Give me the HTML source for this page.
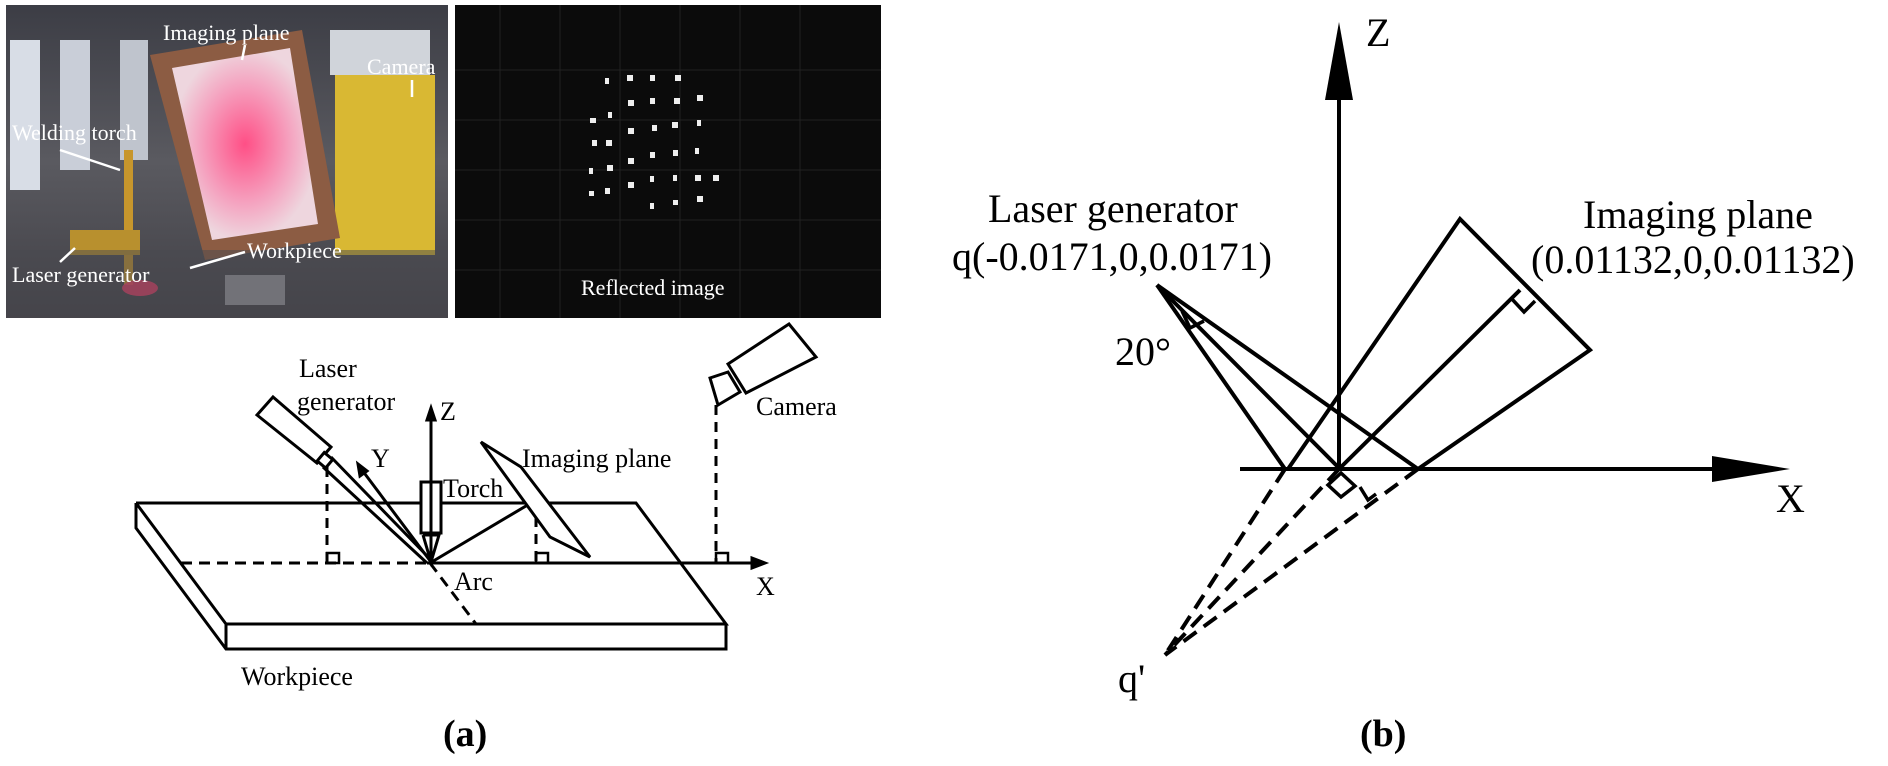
<!DOCTYPE html>
<html><head><meta charset="utf-8"><style>
html,body{margin:0;padding:0;background:#fff;}
svg{display:block;}
</style></head><body>
<svg width="1888" height="766" viewBox="0 0 1888 766" xmlns="http://www.w3.org/2000/svg">
<defs>
<linearGradient id="bg" x1="0" y1="0" x2="0" y2="1"><stop offset="0" stop-color="#3c3d45"/><stop offset="0.5" stop-color="#5a5a60"/><stop offset="1" stop-color="#403f45"/></linearGradient>
<radialGradient id="pink" cx="0.5" cy="0.5" r="0.5"><stop offset="0" stop-color="#ff4f86"/><stop offset="0.6" stop-color="#f5a0be"/><stop offset="1" stop-color="#eed6de"/></radialGradient>
</defs>
<rect x="6" y="5" width="442" height="313" fill="url(#bg)"/>
<rect x="10" y="40" width="30" height="150" fill="#d8dde6"/>
<rect x="60" y="40" width="30" height="130" fill="#c9ced8"/>
<rect x="120" y="40" width="28" height="120" fill="#bfc4cd"/>
<rect x="330" y="30" width="100" height="45" fill="#d0d4da"/>
<rect x="335" y="75" width="100" height="180" fill="#d9b833"/>
<polygon points="150,55 302,30 340,238 205,260" fill="#8c5c43"/>
<polygon points="172,68 290,48 318,224 212,240" fill="url(#pink)"/>
<rect x="124" y="150" width="9" height="135" fill="#c7962c"/>
<rect x="70" y="230" width="70" height="25" fill="#b8902e"/>
<ellipse cx="140" cy="288" rx="18" ry="8" fill="#ff3a6a" opacity="0.85"/>
<rect x="225" y="275" width="60" height="30" fill="#9a9aa0"/>
<rect x="6" y="250" width="442" height="68" fill="#4a4a50" opacity="0.5"/>
<g font-family="Liberation Serif, serif" fill="#fff" font-size="22">
<text x="163" y="40">Imaging plane</text>
<text x="367" y="74">Camera</text>
<text x="12" y="140">Welding torch</text>
<text x="247" y="258">Workpiece</text>
<text x="12" y="282">Laser generator</text>
</g>
<g stroke="#fff" stroke-width="2.5">
<line x1="245" y1="45" x2="242" y2="60"/><line x1="412" y1="80" x2="412" y2="97"/>
<line x1="60" y1="150" x2="120" y2="170"/><line x1="60" y1="262" x2="75" y2="248"/>
<line x1="245" y1="252" x2="190" y2="268"/>
</g>
<rect x="455" y="5" width="426" height="313" fill="#0b0b0b"/>
<g stroke="#222" stroke-width="1">
<line x1="455" y1="70" x2="881" y2="70"/><line x1="455" y1="120" x2="881" y2="120"/><line x1="455" y1="170" x2="881" y2="170"/><line x1="455" y1="220" x2="881" y2="220"/><line x1="455" y1="270" x2="881" y2="270"/>
<line x1="500" y1="5" x2="500" y2="318"/><line x1="560" y1="5" x2="560" y2="318"/><line x1="620" y1="5" x2="620" y2="318"/><line x1="680" y1="5" x2="680" y2="318"/><line x1="740" y1="5" x2="740" y2="318"/><line x1="800" y1="5" x2="800" y2="318"/>
</g>
<g fill="#eee">
<rect x="605" y="78" width="4" height="6"/><rect x="627" y="75" width="6" height="6"/><rect x="650" y="75" width="5" height="6"/><rect x="675" y="75" width="6" height="6"/><rect x="697" y="95" width="6" height="6"/>
<rect x="628" y="100" width="6" height="6"/><rect x="650" y="98" width="5" height="6"/><rect x="674" y="98" width="6" height="6"/><rect x="608" y="112" width="4" height="6"/>
<rect x="590" y="118" width="6" height="5"/><rect x="628" y="128" width="6" height="6"/><rect x="652" y="125" width="5" height="6"/><rect x="672" y="122" width="6" height="6"/><rect x="697" y="120" width="4" height="6"/>
<rect x="592" y="140" width="5" height="6"/><rect x="606" y="140" width="6" height="6"/><rect x="650" y="152" width="5" height="6"/><rect x="673" y="150" width="5" height="6"/><rect x="695" y="148" width="4" height="6"/><rect x="628" y="158" width="6" height="6"/>
<rect x="589" y="168" width="4" height="6"/><rect x="607" y="165" width="6" height="6"/><rect x="650" y="176" width="4" height="6"/><rect x="673" y="175" width="4" height="6"/><rect x="695" y="175" width="6" height="6"/><rect x="713" y="175" width="6" height="6"/><rect x="628" y="182" width="6" height="6"/>
<rect x="589" y="191" width="5" height="5"/><rect x="605" y="188" width="5" height="6"/><rect x="697" y="196" width="6" height="6"/><rect x="673" y="200" width="5" height="5"/><rect x="650" y="203" width="4" height="6"/>
</g>
<text x="581" y="295" font-family="Liberation Serif, serif" font-size="22" fill="#fff">Reflected image</text>

<g stroke="#000" stroke-width="3" fill="none">
<polyline points="136,503 636,503 726,624 226,624 136,503"/>
<polyline points="136,503 136,528 226,649 726,649 726,624"/>
<line x1="226" y1="624" x2="226" y2="649"/>
<line x1="181" y1="563" x2="427" y2="563" stroke-dasharray="11,7"/>
<line x1="427" y1="563" x2="758" y2="563"/>
<polygon points="765,563 752,558 752,568" fill="#000"/>
<line x1="430" y1="563" x2="476" y2="624" stroke-dasharray="11,7"/>
<line x1="431" y1="563" x2="431" y2="418"/>
<polygon points="431,408 427,420 435,420" fill="#000"/>
<polygon points="257,415 273,397 331,447 317,463" fill="#fff"/>
<rect x="319" y="455" width="11" height="11" transform="rotate(40 325 461)" fill="#fff"/>
<line x1="323" y1="467" x2="427" y2="563"/>
<line x1="331" y1="457" x2="433" y2="562"/>
<line x1="431" y1="562" x2="362" y2="470"/>
<polygon points="358,464 360,476 367,471" fill="#000"/>
<line x1="327" y1="467" x2="327" y2="563" stroke-dasharray="10,7"/>
<rect x="327" y="553" width="12" height="10" stroke-width="2.5"/>
<rect x="421" y="482" width="20" height="51" fill="#fff"/>
<line x1="431" y1="482" x2="431" y2="533"/>
<polyline points="423,535 439,535 431,562 423,535"/>
<line x1="430" y1="563" x2="536" y2="500"/>
<line x1="536" y1="500" x2="536" y2="563" stroke-dasharray="10,7"/>
<rect x="536" y="553" width="12" height="10" stroke-width="2.5"/>
<polygon points="481,442 521,467 590,557 550,537" fill="#fff"/>
<polygon points="728,364 789,324 816,357 746,393" fill="#fff"/>
<polygon points="710,378 728,372 740,392 718,405" fill="#fff"/>
<line x1="716" y1="405" x2="716" y2="563" stroke-dasharray="10,7"/>
<rect x="716" y="553" width="12" height="10" stroke-width="2.5"/>
</g>
<g font-family="Liberation Serif, serif" font-size="26" fill="#000">
<text x="299" y="377">Laser</text>
<text x="297" y="410">generator</text>
<text x="440" y="420">Z</text>
<text x="371" y="467">Y</text>
<text x="443" y="497">Torch</text>
<text x="522" y="467">Imaging plane</text>
<text x="756" y="415">Camera</text>
<text x="454" y="590">Arc</text>
<text x="756" y="595">X</text>
<text x="241" y="685">Workpiece</text>
</g>
<g font-family="Liberation Serif, serif" font-size="38" font-weight="bold" fill="#000">
<text x="443" y="746">(a)</text>
<text x="1360" y="746">(b)</text>
</g>

<g stroke="#000" stroke-width="4" fill="none" stroke-linejoin="miter">
<line x1="1339" y1="95" x2="1339" y2="470"/>
<polygon points="1339,22 1325,100 1353,100" fill="#000" stroke="none"/>
<line x1="1240" y1="469" x2="1715" y2="469"/>
<polygon points="1790,469 1712,456 1712,482" fill="#000" stroke="none"/>
<line x1="1157" y1="285" x2="1285" y2="469"/>
<line x1="1157" y1="285" x2="1340" y2="469"/>
<line x1="1157" y1="285" x2="1418" y2="469"/>
<polyline points="1182,311 1190,328 1204,321" stroke-width="3.5"/>
<polyline points="1288,469 1460,219 1590,350 1418,469"/>
<line x1="1339" y1="469" x2="1520" y2="290"/>
<polyline points="1511,298 1524,312 1535,301" stroke-width="3.5"/>
<g stroke-dasharray="16,9">
<line x1="1285" y1="469" x2="1165" y2="655"/>
<line x1="1339" y1="469" x2="1165" y2="655"/>
<line x1="1418" y1="469" x2="1165" y2="655"/>
</g>
<polygon points="1341,473 1355,486 1341,497 1328,485" stroke-width="3.5" fill="#fff"/>
<polyline points="1360,487 1368,500 1376,494" stroke-width="3.5"/>
</g>
<g font-family="Liberation Serif, serif" font-size="40" fill="#000">
<text x="988" y="222">Laser generator</text>
<text x="952" y="270">q(-0.0171,0,0.0171)</text>
<text x="1583" y="228">Imaging plane</text>
<text x="1531" y="273">(0.01132,0,0.01132)</text>
<text x="1115" y="365">20°</text>
<text x="1366" y="46">Z</text>
<text x="1776" y="512">X</text>
<text x="1118" y="692">q'</text>
</g>
</svg>
</body></html>
